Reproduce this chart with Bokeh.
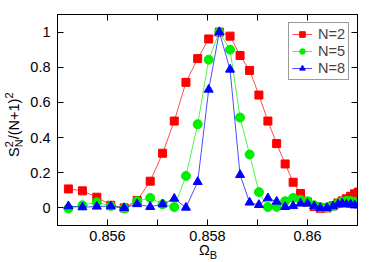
from bokeh.plotting import figure
from bokeh.models import Range1d, LinearAxis, FixedTicker, Legend, LegendItem, Div
from bokeh.layouts import row, column
from bokeh.embed import file_html
from bokeh.resources import INLINE

# ---- data ----
omega = [0.855218, 0.855499, 0.855786, 0.856066, 0.856333, 0.856593, 0.856854,
         0.857102, 0.857335, 0.857569, 0.857804, 0.858024, 0.858236, 0.858451,
         0.858651, 0.858842, 0.859028, 0.859208, 0.859383, 0.859553, 0.859713,
         0.859860, 0.860000, 0.860134, 0.860255, 0.860389, 0.860509, 0.860609,
         0.860695, 0.860776, 0.860862, 0.860942, 0.861016]
s_n2 = [0.108, 0.097, 0.061, 0.015, 0.000, 0.042, 0.152, 0.311, 0.494, 0.714,
        0.849, 0.961, 1.000, 0.977, 0.867, 0.782, 0.642, 0.494, 0.366, 0.250,
        0.146, 0.082, 0.034, 0.008, -0.002, 0.000, 0.012, 0.028, 0.040, 0.052,
        0.066, 0.080, 0.090]
s_n5 = [-0.003, 0.015, 0.032, 0.011, -0.003, 0.038, 0.057, 0.021, 0.005, 0.182,
        0.476, 0.843, 1.000, 0.900, 0.514, 0.304, 0.090, 0.005, 0.006, 0.038,
        0.057, 0.046, 0.038, 0.015, 0.005, 0.003, 0.012, 0.025, 0.035, 0.040,
        0.040, 0.035, 0.030]
s_n8 = [0.010, 0.004, 0.008, 0.010, 0.000, 0.022, 0.006, 0.021, 0.053, 0.002,
        0.148, 0.673, 1.000, 0.787, 0.188, 0.031, 0.017, 0.055, 0.036, 0.006,
        0.011, 0.025, 0.025, 0.010, 0.000, 0.000, 0.010, 0.020, 0.025, 0.020,
        0.020, 0.015, 0.015]
series_names = ["N=2", "N=5", "N=8"]
series_colors = ["#ff0000", "#00ee00", "#0000ff"]
series_markers = ["square", "circle", "triangle"]
series_sizes = [8, 9, 9]

x_ticks = [0.855, 0.856, 0.857, 0.858, 0.859, 0.860, 0.861]
x_tick_labels = {0.855: "", 0.856: "0.856", 0.857: "", 0.858: "0.858",
                 0.859: "", 0.86: "0.86", 0.861: ""}
y_ticks = [0, 0.2, 0.4, 0.6, 0.8, 1.0]
y_tick_labels = {0: "0", 0.2: "0.2", 0.4: "0.4", 0.6: "0.6", 0.8: "0.8", 1.0: "1"}

FONT = "Liberation Sans"
FS = "14.5px"

p = figure(width=350, height=248, x_range=Range1d(0.855, 0.861),
           y_range=Range1d(-0.1, 1.1), output_backend="svg",
           toolbar_location=None, min_border_left=35, min_border_right=15,
           min_border_top=14, min_border_bottom=23, margin=0)
p.grid.visible = False
p.outline_line_color = "black"
p.outline_line_width = 1
p.background_fill_color = "white"
p.border_fill_color = "white"


def style_axis(ax, labels=True):
    ax.major_tick_in = 6
    ax.major_tick_out = 0
    ax.minor_tick_in = 0
    ax.minor_tick_out = 0
    ax.axis_line_color = "black"
    ax.major_tick_line_color = "black"
    ax.major_tick_line_width = 1
    if labels:
        ax.major_label_text_font = FONT
        ax.major_label_text_font_size = FS
        ax.major_label_text_color = "black"
    else:
        ax.major_label_text_font_size = "8px"
        ax.major_label_standoff = 0


p.xaxis.ticker = FixedTicker(ticks=x_ticks)
p.xaxis.major_label_overrides = x_tick_labels
p.xaxis.major_label_standoff = 5
style_axis(p.xaxis[0])
p.yaxis.ticker = FixedTicker(ticks=y_ticks)
p.yaxis.major_label_overrides = y_tick_labels
p.yaxis.major_label_standoff = 7
style_axis(p.yaxis[0])

top = LinearAxis(ticker=FixedTicker(ticks=x_ticks),
                 major_label_overrides={t: "" for t in x_ticks})
style_axis(top, labels=False)
p.add_layout(top, "above")
right = LinearAxis(ticker=FixedTicker(ticks=y_ticks),
                   major_label_overrides={t: "" for t in y_ticks})
style_axis(right, labels=False)
p.add_layout(right, "right")

items = []
for name, ys, col, mk, sz in zip(series_names, [s_n2, s_n5, s_n8], series_colors,
                                 series_markers, series_sizes):
    lr = p.line(omega, ys, line_color=col, line_width=1, line_alpha=0.7)
    sr = p.scatter(omega, ys, marker=mk, size=sz, fill_color=col, line_color=col)
    items.append(LegendItem(label=name, renderers=[lr, sr]))

legend = Legend(items=items, location="top_right", margin=8, padding=3,
                spacing=1, glyph_width=20, glyph_height=14, label_height=14,
                label_standoff=6, border_line_color="#333333",
                border_line_width=1, label_text_font=FONT,
                label_text_font_size=FS, label_text_line_height=1.0,
                background_fill_color="white", background_fill_alpha=1.0)
p.add_layout(legend)

# y axis label  S_N^2/(N+1)^2  (rotated HTML text)
ylab_html = (
    '<div style="position:relative;width:22px;height:262px;">'
    '<div style="position:absolute;left:7px;top:157px;transform-origin:0 0;'
    'transform:rotate(-90deg);white-space:nowrap;font-family:\'Liberation Sans\';'
    'font-size:14.5px;line-height:1;color:black;">'
    'S<span style="position:relative;top:-6px;font-size:11px;">2</span>'
    '<span style="position:relative;top:4px;font-size:11px;margin-left:-6px;">N</span>'
    '/(N+1)<span style="position:relative;top:-6px;font-size:11px;">2</span>'
    '</div></div>')
ylab = Div(text=ylab_html, width=22, height=262, margin=0,
           styles={"overflow": "visible"})

# x axis label  Omega_B
xlab_html = (
    '<div style="position:relative;width:350px;height:14px;">'
    '<div style="position:absolute;left:177px;top:-5px;white-space:nowrap;'
    'font-family:\'Liberation Sans\';font-size:14.5px;line-height:1;color:black;">'
    'Ω<span style="position:relative;top:4px;font-size:11px;">B</span>'
    '</div></div>')
xlab = Div(text=xlab_html, width=350, height=14, margin=0,
           styles={"overflow": "visible"})

layout = row(ylab, column(p, xlab, spacing=0, margin=0), spacing=0, margin=0)

open("out.html", "w").write(file_html(layout, INLINE))
